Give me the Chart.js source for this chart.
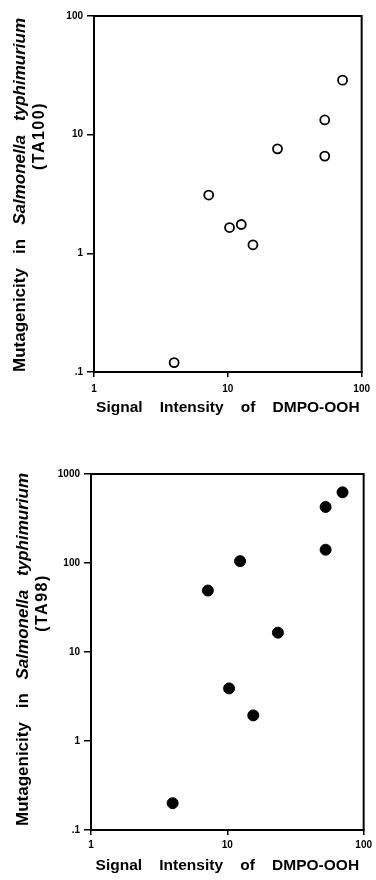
<!DOCTYPE html>
<html>
<head>
<meta charset="utf-8">
<script src="https://cdn.jsdelivr.net/npm/chart.js@4.4.0/dist/chart.umd.min.js"></script>
<style>
  html, body { margin: 0; padding: 0; background: #fff; }
  .wrap { position: absolute; left: 0; width: 376px; height: 440px; }
</style>
</head>
<body>
<div class="wrap" style="top:0"><canvas id="ta100" width="376" height="440"></canvas></div>
<div class="wrap" style="top:440px"><canvas id="ta98" width="376" height="440"></canvas></div>
<script>
// axis ticks
const xTicks = [1, 10, 100];
const xTickLabels = ['1', '10', '100'];
const ta100Ticks = [0.1, 1, 10, 100];
const ta100TickLabels = ['.1', '1', '10', '100'];
const ta98Ticks = [0.1, 1, 10, 100, 1000];
const ta98TickLabels = ['.1', '1', '10', '100', '1000'];

// TA100 (open circles)
const ta100Signal = [3.97, 7.2, 10.3, 12.6, 15.4, 23.5, 53, 53, 72];
const ta100Mutagenicity = [0.12, 3.1, 1.65, 1.75, 1.18, 7.6, 13.3, 6.6, 28.8];

// TA98 (filled circles)
const ta98Signal = [3.97, 7.2, 10.3, 12.4, 15.5, 23.5, 52.6, 52.6, 70];
const ta98Mutagenicity = [0.2, 49, 3.9, 105, 1.94, 16.5, 426, 141, 623];

const FONT = '"Liberation Sans", Arial, Helvetica, sans-serif';

// box round the plot area
const framePlugin = {
    id: 'frame',
    afterDraw(chart) {
        const { ctx, chartArea: a } = chart;
        ctx.save();
        ctx.strokeStyle = '#000';
        ctx.lineWidth = 2;
        ctx.strokeRect(a.left, a.top, a.right - a.left, a.bottom - a.top);
        ctx.restore();
    }
};

// rotated y title, species name in italics, spread over the axis height
const yTitlePlugin = {
    id: 'yTitle',
    afterDraw(chart, args, opts) {
        const ctx = chart.ctx;
        const words = [
            { t: 'Mutagenicity', f: 'bold 17px ' + FONT },
            { t: 'in', f: 'bold 17px ' + FONT },
            { t: 'Salmonella', f: 'italic bold 17px ' + FONT },
            { t: 'typhimurium', f: 'italic bold 17px ' + FONT }
        ];
        ctx.save();
        ctx.fillStyle = '#000';
        ctx.textBaseline = 'middle';
        ctx.translate(opts.x1, opts.bottom);
        ctx.rotate(-Math.PI / 2);
        let total = 0;
        words.forEach(w => { ctx.font = w.f; w.w = ctx.measureText(w.t).width; total += w.w; });
        const gap = (opts.bottom - opts.top - total) / (words.length - 1);
        let x = 0;
        words.forEach(w => { ctx.font = w.f; ctx.fillText(w.t, x, 0); x += w.w + gap; });
        ctx.restore();

        ctx.save();
        ctx.fillStyle = '#000';
        ctx.textBaseline = 'middle';
        ctx.textAlign = 'center';
        ctx.font = 'bold 16px ' + FONT;
        ctx.letterSpacing = '1.5px';
        ctx.translate(opts.x2, opts.strainY);
        ctx.rotate(-Math.PI / 2);
        ctx.fillText(opts.strain, 0, 0);
        ctx.restore();
    }
};

function makeChart(id, cfg) {
    const tickFont = { family: FONT, size: 10, weight: 'bold' };
    new Chart(document.getElementById(id), {
        type: 'scatter',
        data: {
            datasets: [{
                data: cfg.x.map((v, i) => ({ x: v, y: cfg.y[i] })),
                pointRadius: cfg.radius,
                pointBorderWidth: cfg.borderWidth,
                pointBackgroundColor: cfg.fill,
                pointBorderColor: '#000'
            }]
        },
        options: {
            responsive: false,
            animation: false,
            layout: { padding: { left: 0, right: cfg.padRight, top: cfg.padTop, bottom: 0 } },
            plugins: {
                legend: { display: false },
                tooltip: { enabled: false },
                yTitle: cfg.yTitle
            },
            scales: {
                x: {
                    type: 'logarithmic',
                    min: 1, max: 100,
                    afterBuildTicks: s => { s.ticks = xTicks.map(v => ({ value: v })); },
                    afterFit: s => { s.height = cfg.xHeight; },
                    ticks: {
                        callback: (v, i) => xTickLabels[i],
                        font: tickFont, color: '#000',
                        padding: cfg.xTickPad, maxRotation: 0, autoSkip: false
                    },
                    grid: { drawOnChartArea: false, tickLength: 5, color: '#000', lineWidth: 1.5 },
                    border: { color: '#000', width: 2 },
                    title: {
                        display: true,
                        text: 'Signal    Intensity    of    DMPO-OOH',
                        font: { family: FONT, size: 15.5, weight: 'bold' },
                        color: '#000',
                        padding: { top: 0, bottom: cfg.titlePad }
                    }
                },
                y: {
                    type: 'logarithmic',
                    min: cfg.yTicks[0], max: cfg.yTicks[cfg.yTicks.length - 1],
                    afterBuildTicks: s => { s.ticks = cfg.yTicks.map(v => ({ value: v })); },
                    afterFit: s => { s.width = cfg.yWidth; },
                    ticks: {
                        callback: (v, i) => cfg.yLabels[i],
                        font: tickFont, color: '#000', padding: 4, autoSkip: false
                    },
                    grid: { drawOnChartArea: false, tickLength: 7, color: '#000', lineWidth: 1.5 },
                    border: { color: '#000', width: 2 }
                }
            }
        },
        plugins: [framePlugin, yTitlePlugin]
    });
}

makeChart('ta100', {
    x: ta100Signal, y: ta100Mutagenicity,
    yTicks: ta100Ticks, yLabels: ta100TickLabels,
    radius: 4.5, borderWidth: 1.8, fill: '#fff',
    padRight: 11, padTop: 16, yWidth: 94, xHeight: 68,
    xTickPad: 6, titlePad: 23,
    yTitle: { x1: 20, bottom: 372, top: 18, x2: 40, strainY: 136, strain: '(TA100)' }
});

makeChart('ta98', {
    x: ta98Signal, y: ta98Mutagenicity,
    yTicks: ta98Ticks, yLabels: ta98TickLabels,
    radius: 5.5, borderWidth: 1, fill: '#000',
    padRight: 10, padTop: 34, yWidth: 91, xHeight: 50,
    xTickPad: 4, titlePad: 5,
    yTitle: { x1: 23, bottom: 386, top: 33, x2: 43, strainY: 163, strain: '(TA98)' }
});
</script>
</body>
</html>
